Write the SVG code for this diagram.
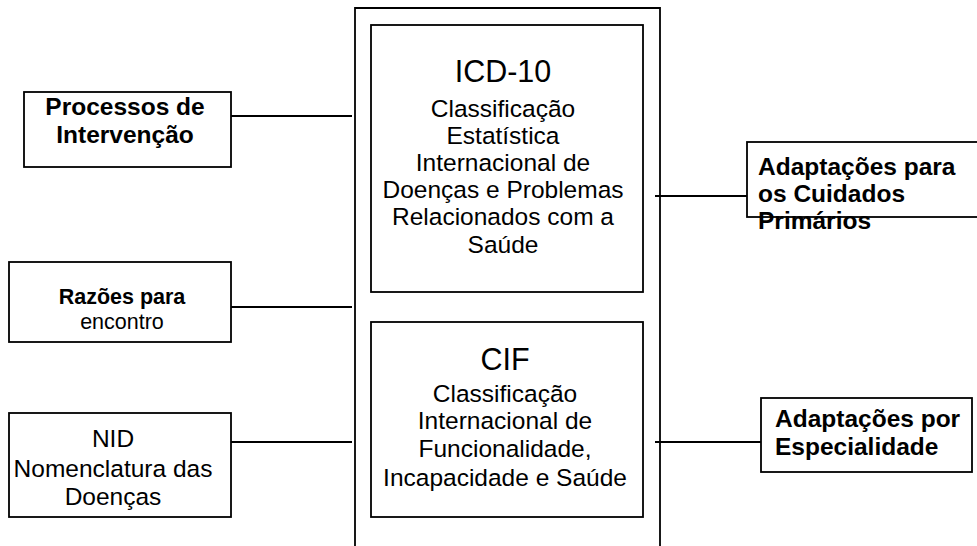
<svg xmlns="http://www.w3.org/2000/svg" width="977" height="546" viewBox="0 0 977 546">
<style>
.box{fill:#fff;stroke:#000;stroke-width:1.8}
.frame{fill:none;stroke:#000;stroke-width:1.8}
.conn line{stroke:#000;stroke-width:1.8}
text{font-family:"Liberation Sans",Arial,sans-serif;fill:#000}
.c{text-anchor:middle}
.b{font-weight:bold}
.t{font-size:24.5px}
.s{font-size:21.5px}
.h{font-size:30.5px}
</style>
<rect width="977" height="546" fill="#fff"/>
<g id="outer">
<path class="frame" d="M355,550 V8 H660 V550"/>
</g>
<g id="connectors" class="conn">
<line x1="231" y1="116" x2="352" y2="116"/>
<line x1="231" y1="307" x2="352" y2="307"/>
<line x1="231" y1="442" x2="352" y2="442"/>
<line x1="655" y1="196" x2="747" y2="196"/>
<line x1="655" y1="442" x2="761" y2="442"/>
</g>
<g id="icd10">
<rect class="box" x="371" y="25" width="272" height="267"/>
<text class="c h" x="503" y="82">ICD-10</text>
<text class="c t" x="503" y="117">Classificação</text>
<text class="c t" x="503" y="144">Estatística</text>
<text class="c t" x="503" y="171">Internacional de</text>
<text class="c t" x="503" y="198">Doenças e Problemas</text>
<text class="c t" x="503" y="225">Relacionados com a</text>
<text class="c t" x="503" y="253">Saúde</text>
</g>
<g id="cif">
<rect class="box" x="371" y="322" width="272" height="195"/>
<text class="c h" x="505" y="370">CIF</text>
<text class="c t" x="505" y="402">Classificação</text>
<text class="c t" x="505" y="429">Internacional de</text>
<text class="c t" x="505" y="457">Funcionalidade,</text>
<text class="c t" x="505" y="486">Incapacidade e Saúde</text>
</g>
<g id="processos">
<rect class="box" x="24" y="92" width="207" height="75"/>
<text class="c t b" x="125" y="115">Processos de</text>
<text class="c t b" x="125" y="143">Intervenção</text>
</g>
<g id="razoes">
<rect class="box" x="9" y="262" width="222" height="80"/>
<text class="c s b" x="122" y="304">Razões para</text>
<text class="c s" x="122" y="329">encontro</text>
</g>
<g id="nid">
<rect class="box" x="9" y="413" width="222" height="104"/>
<text class="c t" x="113" y="447">NID</text>
<text class="c t" x="113" y="477">Nomenclatura das</text>
<text class="c t" x="113" y="505">Doenças</text>
</g>
<g id="cuidados">
<rect class="box" x="747" y="142" width="240" height="75"/>
<text class="t b" x="758" y="175">Adaptações para</text>
<text class="t b" x="758" y="202">os Cuidados</text>
<text class="t b" x="758" y="229">Primários</text>
</g>
<g id="especialidade">
<rect class="box" x="761" y="398" width="211" height="74"/>
<text class="t b" x="775" y="427">Adaptações por</text>
<text class="t b" x="775" y="455">Especialidade</text>
</g>
</svg>
